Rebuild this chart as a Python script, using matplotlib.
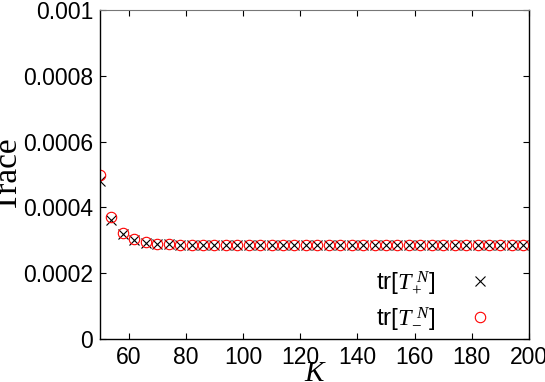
import numpy as np
import matplotlib
matplotlib.use('Agg')
import matplotlib.pyplot as plt

# K values and traces
k_values = list(range(50, 199, 4))
trace_plus_head = [0.000480, 0.000362, 0.000318, 0.000300, 0.000292, 0.000289, 0.000288]
trace_minus_head = [0.000500, 0.000371, 0.000321, 0.000303, 0.000294, 0.000290, 0.000288]
plateau = 0.000287
trace_plus = trace_plus_head + [plateau] * (len(k_values) - len(trace_plus_head))
trace_minus = trace_minus_head + [plateau] * (len(k_values) - len(trace_minus_head))

x_ticks = [60, 80, 100, 120, 140, 160, 180, 200]
y_ticks = [0, 0.0002, 0.0004, 0.0006, 0.0008, 0.001]
y_tick_labels = ['0', '0.0002', '0.0004', '0.0006', '0.0008', '0.001']

plt.rcParams['font.family'] = ['Liberation Sans', 'DejaVu Sans']
plt.rcParams['mathtext.fontset'] = 'custom'
plt.rcParams['mathtext.rm'] = 'Liberation Serif'
plt.rcParams['mathtext.it'] = 'Liberation Serif:italic'

fig = plt.figure(figsize=(5.45, 3.82), dpi=100)
ax = fig.add_axes([100 / 545, 1 - 339 / 382, 429 / 545, 329 / 382])

ax.plot(k_values, trace_plus, linestyle='none', marker='x', color='black',
        markersize=6.5, markeredgewidth=0.8, label=r'tr[$T_{+}^{\ N}$]')
ax.plot(k_values, trace_minus, linestyle='none', marker='o', markerfacecolor='none',
        markeredgecolor='red', markersize=7.5, markeredgewidth=0.8, label=r'tr[$T_{-}^{\ N}$]')

ax.set_xlim(50, 200)
ax.set_ylim(0, 0.001)
ax.set_xticks(x_ticks)
ax.set_yticks(y_ticks)
ax.set_yticklabels(y_tick_labels)
ax.tick_params(direction='in', top=True, right=True, labelsize=16.5, length=4, pad=5)
for side in ['left', 'bottom', 'right']:
    ax.spines[side].set_linewidth(1.0)
ax.spines['top'].set_color('#777777')

ax.set_xlabel('K', fontsize=21, family='Liberation Serif', style='italic')
ax.xaxis.set_label_coords(0.5, -0.068)
ax.set_ylabel('Trace', fontsize=24, family='Liberation Serif')
ax.yaxis.set_label_coords(-0.178, 0.5)

ax.legend(loc='lower right', bbox_to_anchor=(0.951, -0.01), borderaxespad=0,
          frameon=False, markerfirst=False, fontsize=17.5, handletextpad=1.1,
          labelspacing=0.32, handlelength=1.5)

fig.savefig('out.png', dpi=100)
